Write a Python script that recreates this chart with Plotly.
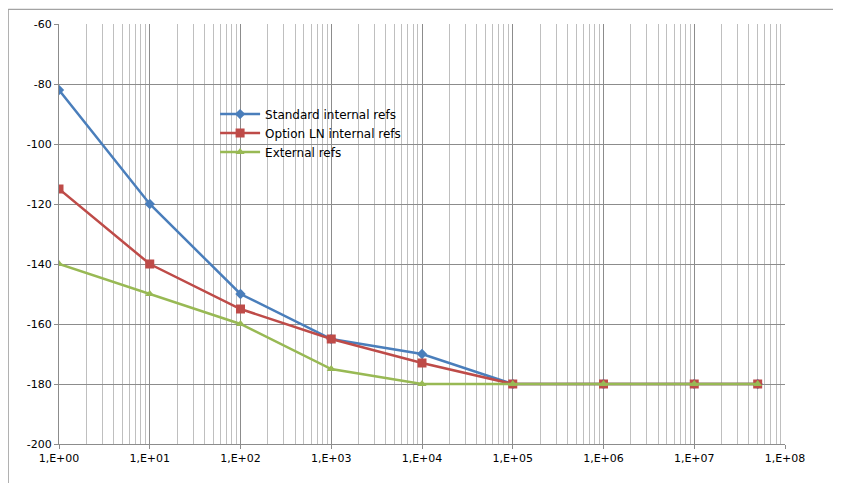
import plotly.graph_objects as go

x = [1, 10, 100, 1e3, 1e4, 1e5, 1e6, 1e7, 5e7]
standard = [-82, -120, -150, -165, -170, -180, -180, -180, -180]
option_ln = [-115, -140, -155, -165, -173, -180, -180, -180, -180]
external = [-140, -150, -160, -175, -180, -180, -180, -180, -180]
xtickvals = [10**k for k in range(9)]
xticktext = ["1,E+%02d" % k for k in range(9)]
ytickvals = list(range(-200, -59, 20))
yticktext = [str(v) for v in ytickvals]
minor_vals = [m * 10**k for k in range(8) for m in range(2, 10)]

fig = go.Figure()
fig.add_trace(go.Scatter(x=x, y=standard, name="Standard internal refs", mode="lines+markers",
                         line=dict(color="#4A7EBB", width=2.5), marker=dict(symbol="diamond", size=8, color="#4A7EBB")))
fig.add_trace(go.Scatter(x=x, y=option_ln, name="Option LN internal refs", mode="lines+markers",
                         line=dict(color="#BE4B48", width=2.5), marker=dict(symbol="square", size=9, color="#BE4B48")))
fig.add_trace(go.Scatter(x=x, y=external, name="External refs", mode="lines+markers",
                         line=dict(color="#98B954", width=2.5), marker=dict(symbol="triangle-up", size=8, color="#98B954")))

fig.update_layout(
    width=841, height=483, paper_bgcolor="white", plot_bgcolor="white",
    margin=dict(l=51, r=64, t=16, b=47, autoexpand=False),
    font=dict(family="DejaVu Sans", size=11, color="black"),
    legend=dict(x=0.215, y=0.82, xanchor="left", yanchor="top", bgcolor="rgba(0,0,0,0)",
                font=dict(size=12), tracegroupgap=8, itemwidth=40),
    xaxis=dict(type="log", range=[0, 8], tickvals=xtickvals, ticktext=xticktext, automargin=False,
               showgrid=True, gridcolor="#8c8c8c", gridwidth=1, showline=True, linecolor="#8c8c8c",
               ticks="outside", ticklen=4, tickcolor="#8c8c8c",
               minor=dict(tickvals=minor_vals, showgrid=True, gridcolor="#bfbfbf", gridwidth=1)),
    yaxis=dict(range=[-200, -60], tickvals=ytickvals, ticktext=yticktext, automargin=False,
               showgrid=True, gridcolor="#8c8c8c",
               showline=True, linecolor="#8c8c8c", ticks="outside", ticklen=4, tickcolor="#8c8c8c",
               zeroline=False),
    shapes=[dict(type="rect", xref="paper", yref="paper", x0=-0.07, x1=1.085, y0=-0.11, y1=1.035,
                 line=dict(color="#8c8c8c", width=1))],
)
fig.write_html("out.html")
